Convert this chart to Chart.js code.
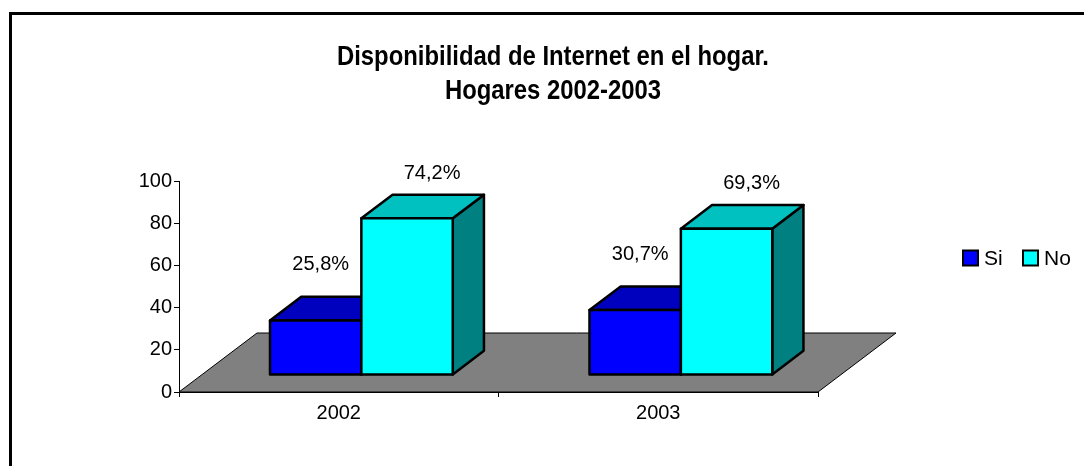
<!DOCTYPE html>
<html>
<head>
<meta charset="utf-8">
<script src="https://cdn.jsdelivr.net/npm/chart.js@4"></script>
<style>
  html, body { margin: 0; padding: 0; background: #fff; }
  canvas { display: block; }
</style>
</head>
<body>
<canvas id="chart" width="1084" height="466"></canvas>
<script>
const years = ["2002", "2003"];
const siValues = [25.8, 30.7];
const noValues = [74.2, 69.3];
const seriesNames = ["Si", "No"];
const yTicks = [0, 20, 40, 60, 80, 100];
const titleLines = ["Disponibilidad de Internet en el hogar.", "Hogares 2002-2003"];

const fmt = (v) => v.toFixed(1).replace(".", ",") + "%";

const FAMILY = "'Liberation Sans', Arial, sans-serif";
Chart.defaults.font.family = FAMILY;
Chart.defaults.font.size = 20;
Chart.defaults.color = "#000";

// fake 3d: floor depth, and where the boxes sit inside it
const floorDepth = { x: 78, y: -59 };
const barFront = 0.29;
const barDepth = 0.4;

const faces = [
  { front: "#0000ff", top: "#0000bf", side: "#00007f" },
  { front: "#00ffff", top: "#00c0c0", side: "#008080" },
];
// label offsets from the front-top centre, per series
const labelShift = [
  { x: 5, y: -56 },
  { x: 25, y: -45 },
];

// no narrow font installed, so squeeze the bold title to the reference width
const titleSize = 27;
const titleWidth = 432;
const squeeze = (() => {
  const c = document.createElement("canvas").getContext("2d");
  c.font = "bold " + titleSize + "px " + FAMILY;
  return Math.min(1, titleWidth / c.measureText(titleLines[0]).width);
})();

const poly = (ctx, pts, fill) => {
  ctx.beginPath();
  ctx.moveTo(pts[0][0], pts[0][1]);
  for (let i = 1; i < pts.length; i++) ctx.lineTo(pts[i][0], pts[i][1]);
  ctx.closePath();
  ctx.fillStyle = fill;
  ctx.fill();
  ctx.stroke();
};

const frame3d = {
  id: "frame3d",
  beforeDraw(chart) {
    const ctx = chart.ctx;
    ctx.save();
    ctx.fillStyle = "#fff";
    ctx.fillRect(0, 0, chart.width, chart.height);
    ctx.fillStyle = "#000";
    ctx.fillRect(9, 12, chart.width - 9, 3);
    ctx.fillRect(9, 12, 3, chart.height - 12);
    ctx.restore();
  },
  afterLayout(chart) {
    // the title sits centred a bit right of the plot
    const t = chart.titleBlock;
    if (!t) return;
    t.left += 84;
    t.right += 84;
    if (!t._squeezed) {
      const orig = t.draw;
      t.draw = function () {
        const ctx = this.ctx;
        const cx = (this.left + this.right) / 2;
        ctx.save();
        ctx.translate(cx, 0);
        ctx.scale(squeeze, 1);
        ctx.translate(-cx, 0);
        orig.apply(this, arguments);
        ctx.restore();
      };
      t._squeezed = true;
    }
  },
  beforeDatasetsDraw(chart) {
    const ctx = chart.ctx;
    const x = chart.scales.x;
    const y0 = chart.scales.y.getPixelForValue(0);
    ctx.save();
    ctx.lineWidth = 1;
    ctx.strokeStyle = "#000";
    poly(ctx, [
      [x.left, y0],
      [x.right, y0],
      [x.right + floorDepth.x, y0 + floorDepth.y],
      [x.left + floorDepth.x, y0 + floorDepth.y],
    ], "#808080");

    const fx = floorDepth.x * barFront, fy = floorDepth.y * barFront;
    const dx = floorDepth.x * barDepth, dy = floorDepth.y * barDepth;
    ctx.lineWidth = 2.5;
    ctx.lineJoin = "round";
    for (let i = 0; i < years.length; i++) {
      chart.data.datasets.forEach((ds, d) => {
        const el = chart.getDatasetMeta(d).data[i];
        const x0 = el.x - el.width / 2 + fx;
        const x1 = el.x + el.width / 2 + fx;
        const yt = el.y + fy;
        const yb = el.base + fy;
        const c = faces[d];
        poly(ctx, [[x1, yt], [x1 + dx, yt + dy], [x1 + dx, yb + dy], [x1, yb]], c.side);
        poly(ctx, [[x0, yt], [x0 + dx, yt + dy], [x1 + dx, yt + dy], [x1, yt]], c.top);
        poly(ctx, [[x0, yt], [x1, yt], [x1, yb], [x0, yb]], c.front);

        ctx.fillStyle = "#000";
        ctx.font = "20px " + FAMILY;
        ctx.textAlign = "center";
        ctx.textBaseline = "middle";
        ctx.fillText(fmt(ds.data[i]), el.x + fx + labelShift[d].x, yt + labelShift[d].y);
      });
    }
    ctx.restore();
    return false;
  },
  afterDraw(chart) {
    // legend: two boxes in a row, right of the plot
    const ctx = chart.ctx;
    const xs = [963, 1023];
    const yc = 258;
    ctx.save();
    ctx.font = "21px " + FAMILY;
    ctx.textAlign = "left";
    ctx.textBaseline = "middle";
    chart.data.datasets.forEach((ds, d) => {
      ctx.fillStyle = ds.backgroundColor;
      ctx.fillRect(xs[d], yc - 7.5, 15, 15);
      ctx.lineWidth = 2;
      ctx.strokeStyle = "#000";
      ctx.strokeRect(xs[d], yc - 7.5, 15, 15);
      ctx.fillStyle = "#000";
      ctx.fillText(ds.label, xs[d] + 21, yc + 1);
    });
    ctx.restore();
  },
};

new Chart(document.getElementById("chart"), {
  type: "bar",
  data: {
    labels: years,
    datasets: [
      { label: seriesNames[0], data: siValues, backgroundColor: faces[0].front },
      { label: seriesNames[1], data: noValues, backgroundColor: faces[1].front },
    ],
  },
  options: {
    responsive: false,
    animation: false,
    devicePixelRatio: 1,
    layout: { padding: { left: 120, right: 266, top: 41, bottom: 0 } },
    datasets: { bar: { categoryPercentage: 0.572, barPercentage: 1.0 } },
    plugins: {
      legend: { display: false },
      tooltip: { enabled: false },
      title: {
        display: true,
        text: titleLines,
        color: "#000",
        font: {
          family: FAMILY,
          size: titleSize,
          weight: "bold",
          lineHeight: 34 / titleSize,
        },
        padding: { top: 0, bottom: 72 },
      },
    },
    scales: {
      x: {
        afterFit: (s) => { s.height = 74; },
        grid: { drawOnChartArea: false, tickLength: 5, color: "#000", offset: true },
        border: { color: "#000" },
        ticks: { padding: 4 },
      },
      y: {
        min: yTicks[0],
        max: yTicks[yTicks.length - 1],
        afterFit: (s) => { s.width = 59; },
        grid: { drawOnChartArea: false, tickLength: 5, color: "#000" },
        border: { color: "#000" },
        ticks: { stepSize: 20, padding: 2 },
      },
    },
  },
  plugins: [frame3d],
});
</script>
</body>
</html>
